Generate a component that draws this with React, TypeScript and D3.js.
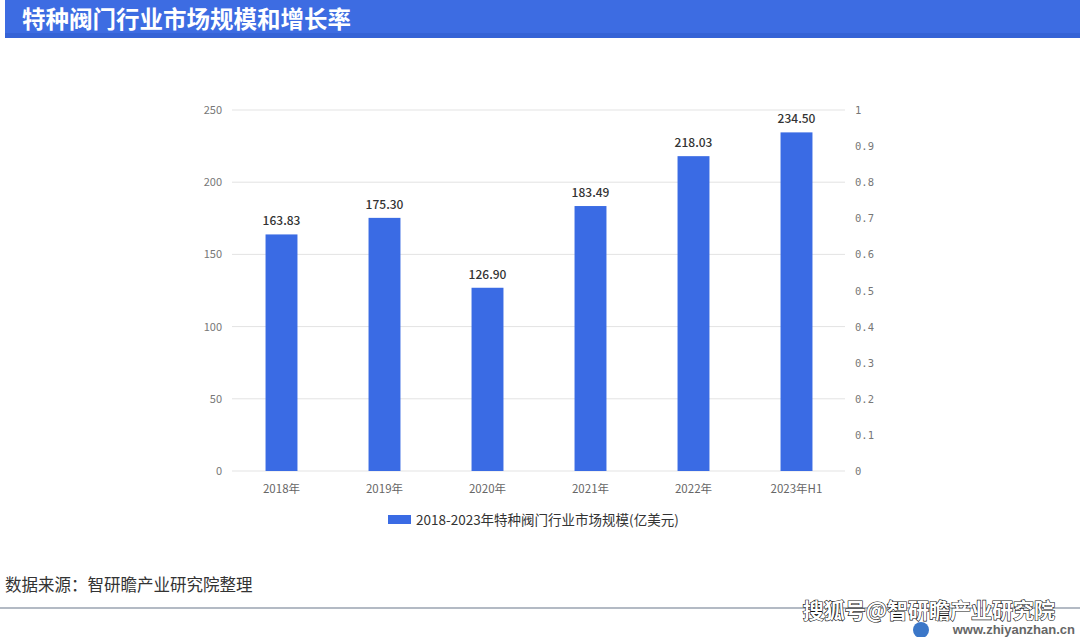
import React from "react";
import * as d3 from "d3";

const categories = ["2018年", "2019年", "2020年", "2021年", "2022年", "2023年H1"];
const values = [163.83, 175.3, 126.9, 183.49, 218.03, 234.5];
const leftTicks = [0, 50, 100, 150, 200, 250];
const rightTicks = [0, 0.1, 0.2, 0.3, 0.4, 0.5, 0.6, 0.7, 0.8, 0.9, 1];

const W = 1080;
const H = 637;
const BLUE = "#3a6be4";
const CJK = "'Noto Sans CJK SC', 'Noto Sans', sans-serif";

export default function App() {
  const x = d3.scaleBand<string>().domain(categories).range([230, 848]).paddingInner(0.69).paddingOuter(0.345);
  const y = d3.scaleLinear().domain([0, 250]).range([471, 110]);
  const y2 = d3.scaleLinear().domain([0, 1]).range([471, 110]);
  const fmt = d3.format(".2f");

  return (
    <svg width={W} height={H} style={{ position: "absolute", left: 0, top: 0, background: "#fff" }}>
      <rect x={0} y={0} width={W} height={H} fill="#fff" />
      {/* title bar */}
      <rect x={5} y={0} width={W - 5} height={38} fill="#3d6ce2" />
      <rect x={5} y={33} width={W - 5} height={5} fill="#3563d6" />
      <text x={22} y={28} fill="#fff" fontFamily={CJK} fontSize={23.5} fontWeight={700}>
        特种阀门行业市场规模和增长率
      </text>

      {/* grid */}
      {leftTicks.map((t) => (
        <line key={t} x1={232} x2={845} y1={y(t)} y2={y(t)} stroke="#e3e3e3" strokeWidth={1} />
      ))}
      {/* left ticks */}
      {leftTicks.map((t) => (
        <text key={t} x={222} y={y(t) + 4} textAnchor="end" fill="#777" fontFamily={CJK} fontSize={11}>
          {t}
        </text>
      ))}
      {/* right ticks */}
      {rightTicks.map((t) => (
        <text key={t} x={855} y={y2(t) + 4} textAnchor="start" fill="#777" fontFamily="'DejaVu Sans Mono', monospace" fontSize={10.5}>
          {t === 0 || t === 1 ? String(t) : d3.format(".1f")(t)}
        </text>
      ))}

      {/* bars */}
      {categories.map((c, i) => (
        <g key={c}>
          <rect x={x(c)} y={y(values[i])} width={x.bandwidth()} height={y(0) - y(values[i])} fill={BLUE} />
          <text x={(x(c) as number) + x.bandwidth() / 2} y={y(values[i]) - 9} textAnchor="middle" fill="#333" fontFamily={CJK} fontSize={12} fontWeight={500}>
            {fmt(values[i])}
          </text>
          <text x={(x(c) as number) + x.bandwidth() / 2} y={493} textAnchor="middle" fill="#666" fontFamily={CJK} fontSize={11.5}>
            {c}
          </text>
        </g>
      ))}

      {/* legend */}
      <rect x={388} y={515} width={23} height={9} fill={BLUE} />
      <text x={416} y={524.5} fill="#333" fontFamily={CJK} fontSize={13.5}>
        2018-2023年特种阀门行业市场规模(亿美元)
      </text>

      {/* source */}
      <text x={5} y={591} fill="#333" fontFamily={CJK} fontSize={16.5}>
        数据来源：智研瞻产业研究院整理
      </text>
      <line x1={0} x2={W} y1={608} y2={608} stroke="#9aa3b0" strokeWidth={1.5} />

      {/* watermark texts */}
      <text x={1055} y={618} textAnchor="end" fill="#fff" stroke="#111" strokeWidth={1.2} paintOrder="stroke" fontFamily={CJK} fontSize={21} fontWeight={700}>
        搜狐号@智研瞻产业研究院
      </text>
      <circle cx={921} cy={630} r={8} fill="#3b77c8" />
      <text x={1075} y={634} textAnchor="end" fill="#666" fontFamily="'Liberation Sans', sans-serif" fontSize={13} fontWeight={700}>
        www.zhiyanzhan.cn
      </text>
    </svg>
  );
}
